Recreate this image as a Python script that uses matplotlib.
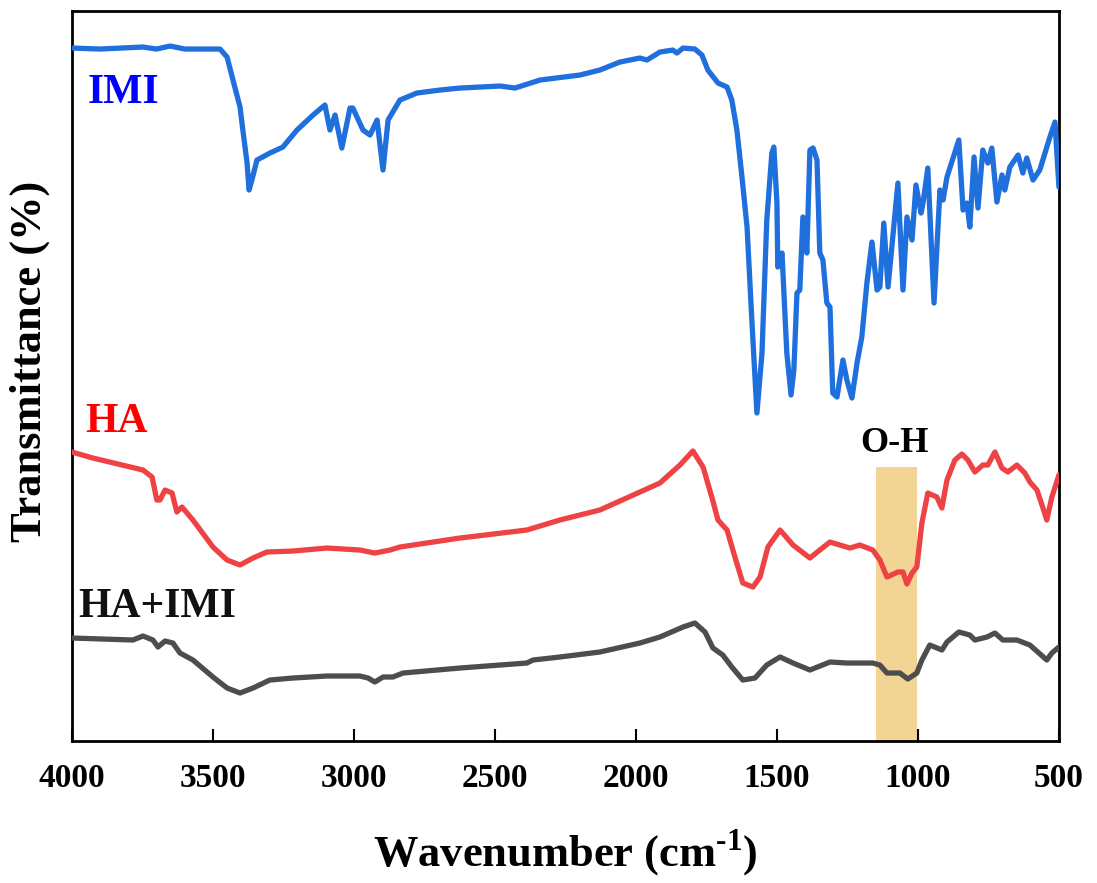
import matplotlib.pyplot as plt

plt.rcParams['font.family'] = ['Liberation Serif', 'DejaVu Serif']
plt.rcParams['font.weight'] = 'bold'
plt.rcParams['mathtext.fontset'] = 'custom'
plt.rcParams['mathtext.rm'] = 'Liberation Serif:bold'
plt.rcParams['mathtext.bf'] = 'Liberation Serif:bold'

# spectra (wavenumber in cm-1, transmittance in arbitrary offset units)
imi_wn = [4000, 3901, 3748, 3700, 3652, 3600, 3475, 3450, 3429, 3404, 3394, 3379, 3372, 3362,
          3344, 3298, 3252, 3202, 3145, 3103, 3085, 3067, 3043, 3014, 3004, 2968, 2943, 2918,
          2897, 2879, 2837, 2777, 2695, 2624, 2482, 2429, 2340, 2199, 2128, 2057, 1986, 1961,
          1915, 1869, 1855, 1833, 1791, 1766, 1745, 1709, 1677, 1660, 1642, 1624, 1606, 1589,
          1571, 1553, 1536, 1518, 1511, 1500, 1497, 1482, 1465, 1450, 1440, 1429, 1419, 1408,
          1394, 1383, 1372, 1358, 1348, 1337, 1323, 1312, 1302, 1287, 1266, 1252, 1234, 1216,
          1199, 1181, 1163, 1145, 1135, 1121, 1106, 1071, 1053, 1039, 1021, 1007, 989, 982,
          965, 943, 922, 911, 897, 855, 840, 826, 816, 801, 787, 770, 752, 738, 720, 702, 692,
          674, 645, 628, 614, 592, 568, 532, 514, 500]
imi_t = [693, 692, 694, 692, 695, 692, 692, 684, 661, 634, 611, 578, 551, 561,
         581, 588, 594, 611, 626, 636, 611, 626, 593, 633, 633, 611, 606, 621,
         571, 621, 641, 648, 651, 653, 655, 653, 661, 666, 671, 679, 683, 681,
         689, 691, 688, 693, 692, 686, 671, 658, 654, 641, 611, 564, 514, 421,
         328, 388, 521, 588, 594, 538, 474, 488, 388, 346, 371, 448, 451, 524,
         488, 591, 593, 581, 488, 481, 438, 434, 348, 344, 381, 361, 343, 378,
         404, 458, 499, 451, 454, 518, 454, 558, 451, 524, 501, 556, 528, 538,
         573, 438, 551, 541, 564, 601, 531, 538, 514, 584, 533, 591, 578, 593, 539, 566, 551,
         574, 586, 568, 583, 561, 571, 604, 619, 554]

ha_wn = [4000, 3926, 3748, 3716, 3699, 3688, 3670, 3645, 3628, 3610, 3571, 3500, 3450, 3404,
         3358, 3309, 3216, 3096, 2979, 2926, 2872, 2837, 2624, 2387, 2270, 2128, 1986, 1915,
         1844, 1798, 1762, 1731, 1709, 1677, 1649, 1621, 1585, 1560, 1532, 1489, 1443, 1383,
         1348, 1312, 1277, 1241, 1206, 1160, 1135, 1110, 1071, 1053, 1039, 1021, 1004, 986,
         965, 933, 915, 897, 869, 844, 823, 798, 770, 752, 727, 702, 681, 649, 621, 603, 578,
         560, 543, 525, 500]
ha_t = [289, 283, 271, 264, 241, 241, 251, 248, 229, 234, 221, 194, 181, 176,
        183, 189, 190, 193, 191, 188, 191, 194, 203, 211, 221, 231, 249, 258,
        276, 290, 274, 244, 221, 211, 184, 158, 154, 164, 194, 211, 196, 183,
        191, 199, 196, 193, 196, 191, 181, 164, 169, 169, 157, 168, 174, 218,
        248, 244, 233, 261, 281, 287, 281, 269, 276, 276, 289, 273, 269, 276, 268, 259, 251,
        236, 221, 244, 266]

mix_wn = [4000, 3784, 3748, 3713, 3695, 3670, 3642, 3617, 3571, 3500, 3450, 3404, 3358, 3298,
          3216, 3096, 2979, 2950, 2926, 2897, 2862, 2826, 2624, 2387, 2365, 2270, 2128, 1986,
          1915, 1833, 1791, 1755, 1727, 1692, 1660, 1621, 1578, 1536, 1489, 1443, 1383, 1312,
          1252, 1160, 1135, 1110, 1064, 1036, 1004, 986, 958, 915, 897, 855, 816, 798, 755,
          727, 699, 649, 603, 575, 543, 525, 500]
mix_t = [103, 101, 105, 101, 94, 100, 98, 88, 81, 64, 53, 48, 53, 61,
         63, 65, 65, 63, 59, 64, 64, 68, 73, 78, 81, 84, 89, 98,
         104, 114, 118, 109, 93, 86, 74, 61, 63, 76, 84, 78, 71, 79,
         78, 78, 76, 68, 68, 62, 68, 81, 96, 91, 99, 109, 106, 101, 104,
         108, 101, 101, 96, 89, 81, 88, 94]

names = ['IMI', 'HA', 'HA+IMI']
line_colors = ['#1f6fdc', '#ee4244', '#4d4d4d']
text_colors = ['#0000ff', '#ff0000', '#111111']
label_pos = [(3943, 648), (3954, 319), (3979, 134)]

band = (1150, 1005)
band_top = 274

fig = plt.figure(figsize=(10.97, 8.83), dpi=100)
ax = fig.add_axes([0.0656, 0.1608, 0.8997, 0.8267])

ax.fill_between(band, 0, band_top, color='#f2d595', lw=0, zorder=1)
for wn, t, c in zip([imi_wn, ha_wn, mix_wn], [imi_t, ha_t, mix_t], line_colors):
    ax.plot(wn, t, color=c, lw=3.8, solid_joinstyle='round', solid_capstyle='round', zorder=3)

for name, (x, y), c in zip(names, label_pos, text_colors):
    ax.text(x, y, name, color=c, fontsize=30, fontweight='bold', ha='left', va='center')
ax.text(1082, 298, 'O-H', fontsize=26, fontweight='bold', ha='center', va='center')

ax.set_xlim(4000, 500)
ax.set_ylim(0, 730)
ax.set_xticks([4000, 3500, 3000, 2500, 2000, 1500, 1000, 500])
ax.set_yticks([])
ax.tick_params(axis='x', direction='in', length=9, width=1.5, pad=16, labelsize=24)
for s in ax.spines.values():
    s.set_linewidth(2)

ax.set_xlabel(r'Wavenumber (cm$^{\text{-1}}$)', fontsize=32, fontweight='bold', labelpad=24)
ax.set_ylabel('Transmittance (%)', fontsize=32, fontweight='bold')
ax.yaxis.set_label_coords(-0.022, 0.52)

fig.savefig('out.png', dpi=100)
